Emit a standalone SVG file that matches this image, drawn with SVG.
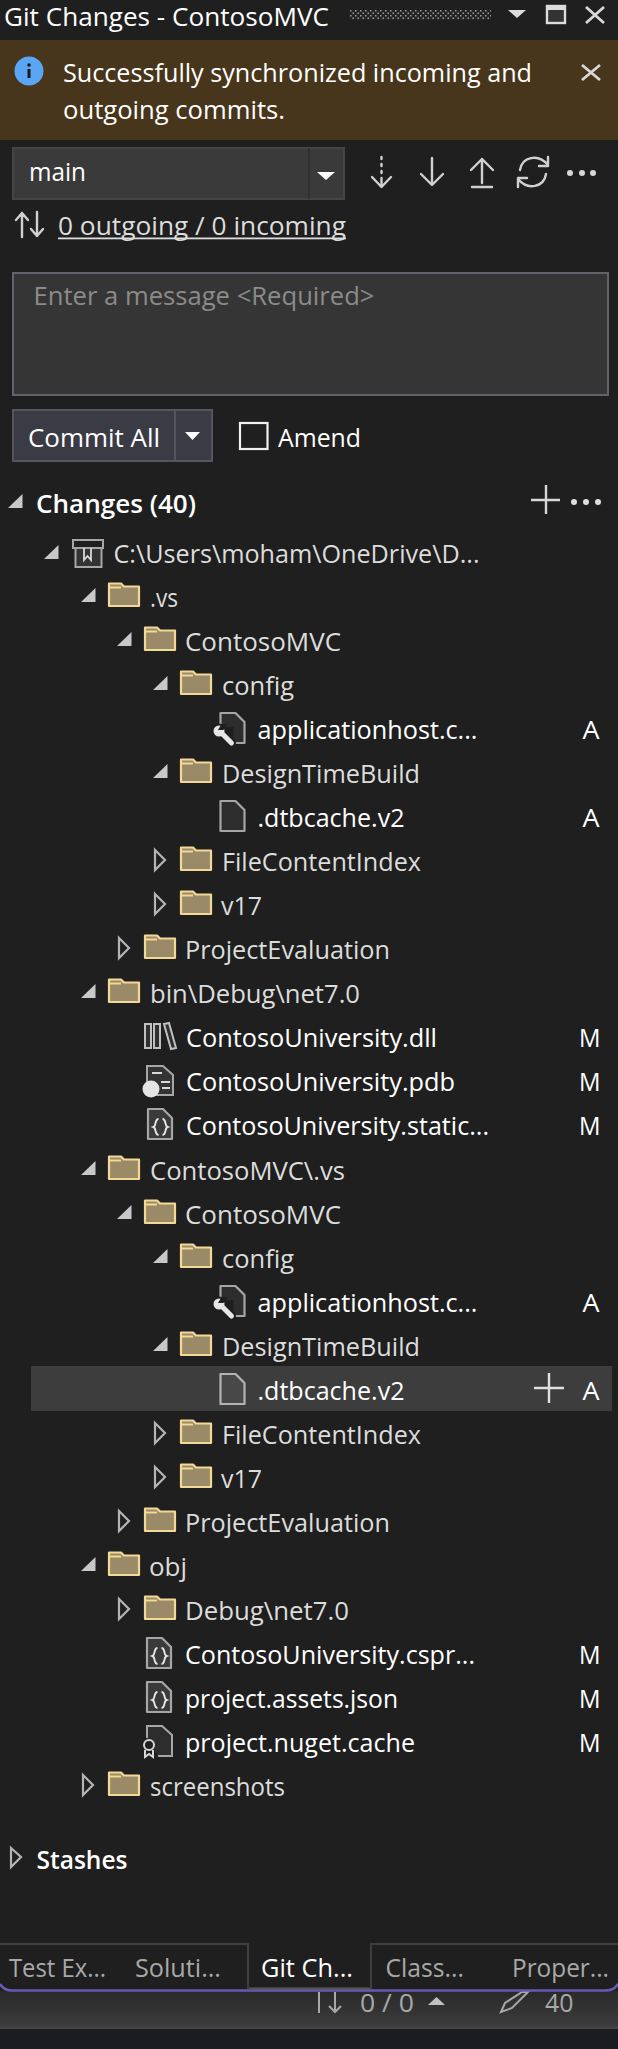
<svg xmlns="http://www.w3.org/2000/svg" width="618" height="2049" viewBox="0 0 618 2049">
<style>
text{font-family:"Open Sans","Noto Sans","Liberation Sans",sans-serif;font-size:25.500px;fill:#dcdcdc}
.w{fill:#fff}
.b{fill:#fff;font-weight:600}
.g{fill:#a8a8a8}
.ph{fill:#8b8b8b}
.ln{fill:none;stroke:#d0d0d0;stroke-width:2.400;stroke-linecap:round;stroke-linejoin:round}
</style>
<defs>
<linearGradient id="sb" x1="0" y1="0" x2="0" y2="1"><stop offset="0" stop-color="#2a2a2a"/><stop offset="1" stop-color="#3c3c3c"/></linearGradient>
<pattern id="grip" width="5" height="5" patternUnits="userSpaceOnUse"><rect width="5" height="5" fill="#242424"/><rect width="1.500" height="1.500" fill="#9a9a9a"/><rect x="2.500" y="2.500" width="1.500" height="1.500" fill="#9a9a9a"/></pattern>
<g id="folder"><path d="M1 -1V-23.500H13L16 -20.500H31V-1Z" fill="#9a8a68" stroke="#f2d995" stroke-width="2.200" stroke-linejoin="round"/><path d="M1 -19.500H13" fill="none" stroke="#f2d995" stroke-width="2"/></g>
<path id="open" d="M14.500 -19V-5H0Z" fill="#c8c8c8"/>
<path id="closed" d="M1 -21L11 -11L1 -1Z" fill="none" stroke="#b4b4b4" stroke-width="2.200"/>
<path id="file" d="M1 -26H16L25 -17V4H1Z" fill="#2d2d2d" stroke="#a6a6a6" stroke-width="2.200" stroke-linejoin="round"/>
<path id="fileH" d="M1 -26H16L25 -17V4H1Z" fill="#484848" stroke="#b4b4b4" stroke-width="2.200" stroke-linejoin="round"/>
<g id="wrench"><path d="M1 -12V-26H16L25 -17V4H14V-12Z" fill="#2d2d2d"/><path d="M1 -12V-26H16L25 -17V4H14" fill="none" stroke="#a6a6a6" stroke-width="2.200" stroke-linejoin="round"/><path d="M0 -8L12 4" stroke="#1f1f1f" stroke-width="9" stroke-linecap="round" fill="none"/><circle cx="-0.500" cy="-8" r="7.500" fill="#1f1f1f"/><path d="M0 -8L12 4" stroke="#e6e6e6" stroke-width="5" stroke-linecap="round" fill="none"/><circle cx="-0.500" cy="-8" r="5.500" fill="#e6e6e6"/><path d="M-1.500 -9L2 -15H8L4 -9Z" fill="#1f1f1f"/></g>
<g id="json"><path d="M1 -26H16L25 -17V4H1Z" fill="#3a3a3a" stroke="#a6a6a6" stroke-width="2.200" stroke-linejoin="round"/><path d="M11.500 -16C7.500 -16 9.500 -9 6.500 -8C9.500 -7 7.500 0 11.500 0M15.500 -16C19.500 -16 17.500 -9 20.500 -8C17.500 -7 19.500 0 15.500 0" fill="none" stroke="#e6e6e6" stroke-width="1.900"/></g>
</defs>
<rect id="panel" width="618" height="2049" fill="#1f1f1f"/>
<g id="titlebar">
<text x="4" y="26" textLength="325" lengthAdjust="spacingAndGlyphs" class="w">Git Changes - ContosoMVC</text>
<rect x="349" y="10" width="142" height="10" fill="url(#grip)"/>
<path d="M508 10H526L517 18Z" fill="#dcdcdc"/>
<rect x="547" y="6" width="18" height="17" fill="#333" stroke="#dcdcdc" stroke-width="2.400"/><rect x="546" y="5" width="20" height="5" fill="#dcdcdc"/>
<path d="M586 7L604 23M604 7L586 23" fill="none" stroke="#d8d8d8" stroke-width="2.800"/>
</g>
<g id="banner">
<rect y="40" width="618" height="100" fill="#47361b"/>
<circle cx="29" cy="71" r="14.500" fill="#5aa6f5"/>
<rect x="27.500" y="69" width="3" height="9" fill="#1a1a1a"/><circle cx="29" cy="65" r="1.800" fill="#1a1a1a"/>
<text x="63" y="82" textLength="469" lengthAdjust="spacingAndGlyphs" class="w">Successfully synchronized incoming and</text>
<text x="63" y="119" textLength="222" lengthAdjust="spacingAndGlyphs" class="w">outgoing commits.</text>
<path d="M582 65L600 80M600 65L582 80" fill="none" stroke="#d8d8d8" stroke-width="2.800"/>
</g>
<g id="branch">
<rect x="13" y="148" width="331" height="51" fill="#3a3a3a" stroke="#454545" stroke-width="2"/>
<path d="M309 148V199" stroke="#2f2f2f" stroke-width="2"/>
<text x="29" y="181" textLength="57" lengthAdjust="spacingAndGlyphs" class="w">main</text>
<path d="M317 172H335L326 180Z" fill="#fff"/>
</g>
<g id="git-actions">
<path class="ln" d="M381.500 157v2M381.500 164v2M381.500 171v2M381.500 178v8M372 177L381.500 187L391 177"/>
<path class="ln" d="M432 158V184M421 174L432 185L443 174"/>
<path class="ln" d="M482 159V183M471 170L482 159L493 170M472 187H492"/>
<path class="ln" d="M520 170C522 157 538 153 548 165M548 157V166H539M546 174C544 187 528 191 518 179M518 187V178H527"/>
<circle cx="570" cy="173" r="3" fill="#d8d8d8"/><circle cx="582" cy="173" r="3" fill="#d8d8d8"/><circle cx="593" cy="173" r="3" fill="#d8d8d8"/>
</g>
<g id="sync-status">
<path class="ln" d="M22 237V213M16 220L22 213L28 220M37 212V236M31 229L37 236L43 229"/>
<text x="58" y="235" textLength="288" lengthAdjust="spacingAndGlyphs">0 outgoing / 0 incoming</text>
<rect x="58" y="237.500" width="288" height="1.800" fill="#dcdcdc"/>
</g>
<g id="message">
<rect x="13" y="273" width="595" height="122" fill="#353535" stroke="#62626a" stroke-width="2"/>
<text x="33.500" y="305" textLength="341" lengthAdjust="spacingAndGlyphs" class="ph">Enter a message &lt;Required&gt;</text>
</g>
<g id="commit">
<rect x="13" y="410" width="199" height="51" fill="#3b3b45" stroke="#55555f" stroke-width="2"/>
<path d="M175 410V461" stroke="#55555f" stroke-width="2"/>
<text x="28" y="447" textLength="132" lengthAdjust="spacingAndGlyphs" class="w">Commit All</text>
<path d="M185 432H200L192.500 440Z" fill="#fff"/>
<rect x="240" y="423" width="27.500" height="26" fill="none" stroke="#f0f0f0" stroke-width="2.200"/>
<text x="278" y="447" textLength="83" lengthAdjust="spacingAndGlyphs" class="w">Amend</text>
</g>
<g id="changes-header">
<use href="#open" x="8" y="513"/>
<text x="36" y="513" textLength="160" lengthAdjust="spacingAndGlyphs" class="b">Changes (40)</text>
<path d="M531 500H560M546 485V514" stroke="#d8d8d8" stroke-width="2.400" fill="none"/>
<circle cx="574" cy="502" r="3" fill="#e0e0e0"/><circle cx="586" cy="502" r="3" fill="#e0e0e0"/><circle cx="598" cy="502" r="3" fill="#e0e0e0"/>
</g>
<g id="repo">
<use href="#open" x="44" y="564"/>
<rect x="73" y="540" width="30" height="8" fill="none" stroke="#a6a6a6" stroke-width="2"/>
<rect x="75.500" y="548" width="26" height="19" fill="#333" stroke="#a6a6a6" stroke-width="2"/>
<path d="M84 548V560L87.500 556L91 560V548" fill="none" stroke="#d8d8d8" stroke-width="1.800"/>
<text x="113.500" y="563" textLength="366" lengthAdjust="spacingAndGlyphs">C:\Users\moham\OneDrive\D...</text>
</g>
<g id="row-highlight"><rect x="31" y="1366" width="581" height="45" fill="#3d3d3d"/></g>
<g id="n01"><use href="#open" x="81" y="607"/><use href="#folder" x="108" y="607"/><text x="150" y="607" textLength="28" lengthAdjust="spacingAndGlyphs">.vs</text></g>
<g id="n02"><use href="#open" x="117" y="651"/><use href="#folder" x="144" y="651"/><text x="185" y="651" textLength="156" lengthAdjust="spacingAndGlyphs">ContosoMVC</text></g>
<g id="n03"><use href="#open" x="153" y="695"/><use href="#folder" x="180" y="695"/><text x="222" y="695" textLength="72" lengthAdjust="spacingAndGlyphs">config</text></g>
<g id="n04"><use href="#wrench" x="219.500" y="739"/><text class="w" x="257.500" y="739" textLength="220" lengthAdjust="spacingAndGlyphs">applicationhost.c...</text><text class="w" x="582.500" y="739" textLength="17" lengthAdjust="spacingAndGlyphs">A</text></g>
<g id="n05"><use href="#open" x="153" y="783"/><use href="#folder" x="180" y="783"/><text x="222" y="783" textLength="198" lengthAdjust="spacingAndGlyphs">DesignTimeBuild</text></g>
<g id="n06"><use href="#file" x="219.500" y="827"/><text class="w" x="257.500" y="827" textLength="147" lengthAdjust="spacingAndGlyphs">.dtbcache.v2</text><text class="w" x="582.500" y="827" textLength="17" lengthAdjust="spacingAndGlyphs">A</text></g>
<g id="n07"><use href="#closed" x="154" y="871"/><use href="#folder" x="180" y="871"/><text x="222" y="871" textLength="199" lengthAdjust="spacingAndGlyphs">FileContentIndex</text></g>
<g id="n08"><use href="#closed" x="154" y="915"/><use href="#folder" x="180" y="915"/><text x="221" y="915" textLength="41" lengthAdjust="spacingAndGlyphs">v17</text></g>
<g id="n09"><use href="#closed" x="118" y="959"/><use href="#folder" x="144" y="959"/><text x="185" y="959" textLength="205" lengthAdjust="spacingAndGlyphs">ProjectEvaluation</text></g>
<g id="n10"><use href="#open" x="81" y="1003"/><use href="#folder" x="108" y="1003"/><text x="150" y="1003" textLength="210" lengthAdjust="spacingAndGlyphs">bin\Debug\net7.0</text></g>
<g id="n11">
<path d="M145 1024h6v24h-6zM154 1024h6v24h-6zM164 1024l5 -1l7 25l-5 1z" fill="#2f2f2f" stroke="#c0c0c0" stroke-width="2"/>
<text class="w" x="186" y="1047" textLength="251" lengthAdjust="spacingAndGlyphs">ContosoUniversity.dll</text><text class="w" x="579" y="1047" textLength="21.500" lengthAdjust="spacingAndGlyphs">M</text></g>
<g id="n12">
<path d="M147 1066H163L173 1075V1095H147Z" fill="#333" stroke="#a6a6a6" stroke-width="2"/>
<path d="M152 1073H162M161 1082H170M162 1088H170" stroke="#d8d8d8" stroke-width="2" fill="none"/>
<circle cx="151" cy="1089" r="8.500" fill="#e4e4e4"/>
<text class="w" x="186" y="1091" textLength="269" lengthAdjust="spacingAndGlyphs">ContosoUniversity.pdb</text><text class="w" x="579" y="1091" textLength="21.500" lengthAdjust="spacingAndGlyphs">M</text></g>
<g id="n13"><use href="#json" x="147" y="1135"/><text class="w" x="186" y="1135" textLength="303" lengthAdjust="spacingAndGlyphs">ContosoUniversity.static...</text><text class="w" x="579" y="1135" textLength="21.500" lengthAdjust="spacingAndGlyphs">M</text></g>
<g id="n14"><use href="#open" x="81" y="1180"/><use href="#folder" x="108" y="1180"/><text x="150" y="1180" textLength="195" lengthAdjust="spacingAndGlyphs">ContosoMVC\.vs</text></g>
<g id="n15"><use href="#open" x="117" y="1224"/><use href="#folder" x="144" y="1224"/><text x="185" y="1224" textLength="156" lengthAdjust="spacingAndGlyphs">ContosoMVC</text></g>
<g id="n16"><use href="#open" x="153" y="1268"/><use href="#folder" x="180" y="1268"/><text x="222" y="1268" textLength="72" lengthAdjust="spacingAndGlyphs">config</text></g>
<g id="n17"><use href="#wrench" x="219.500" y="1312"/><text class="w" x="257.500" y="1312" textLength="220" lengthAdjust="spacingAndGlyphs">applicationhost.c...</text><text class="w" x="582.500" y="1312" textLength="17" lengthAdjust="spacingAndGlyphs">A</text></g>
<g id="n18"><use href="#open" x="153" y="1356"/><use href="#folder" x="180" y="1356"/><text x="222" y="1356" textLength="198" lengthAdjust="spacingAndGlyphs">DesignTimeBuild</text></g>
<g id="n19"><use href="#fileH" x="219.500" y="1400"/><text class="w" x="257.500" y="1400" textLength="147" lengthAdjust="spacingAndGlyphs">.dtbcache.v2</text><path d="M534 1388H564M549 1373V1403" stroke="#e0e0e0" stroke-width="2.400" fill="none"/><text class="w" x="582.500" y="1400" textLength="17" lengthAdjust="spacingAndGlyphs">A</text></g>
<g id="n20"><use href="#closed" x="154" y="1444"/><use href="#folder" x="180" y="1444"/><text x="222" y="1444" textLength="199" lengthAdjust="spacingAndGlyphs">FileContentIndex</text></g>
<g id="n21"><use href="#closed" x="154" y="1488"/><use href="#folder" x="180" y="1488"/><text x="221" y="1488" textLength="41" lengthAdjust="spacingAndGlyphs">v17</text></g>
<g id="n22"><use href="#closed" x="118" y="1532"/><use href="#folder" x="144" y="1532"/><text x="185" y="1532" textLength="205" lengthAdjust="spacingAndGlyphs">ProjectEvaluation</text></g>
<g id="n23"><use href="#open" x="81" y="1576"/><use href="#folder" x="108" y="1576"/><text x="149" y="1576" textLength="38" lengthAdjust="spacingAndGlyphs">obj</text></g>
<g id="n24"><use href="#closed" x="118" y="1620"/><use href="#folder" x="144" y="1620"/><text x="185" y="1620" textLength="164" lengthAdjust="spacingAndGlyphs">Debug\net7.0</text></g>
<g id="n25"><use href="#json" x="146" y="1664"/><text class="w" x="185" y="1664" textLength="290" lengthAdjust="spacingAndGlyphs">ContosoUniversity.cspr...</text><text class="w" x="579" y="1664" textLength="21.500" lengthAdjust="spacingAndGlyphs">M</text></g>
<g id="n26"><use href="#json" x="146" y="1708"/><text class="w" x="185" y="1708" textLength="213" lengthAdjust="spacingAndGlyphs">project.assets.json</text><text class="w" x="579" y="1708" textLength="21.500" lengthAdjust="spacingAndGlyphs">M</text></g>
<g id="n27">
<path d="M147 1738V1726H162L172 1735V1756H158" fill="#2d2d2d" stroke="#a6a6a6" stroke-width="2"/>
<circle cx="149" cy="1745" r="5" fill="#1f1f1f" stroke="#d8d8d8" stroke-width="2"/><path d="M145 1750V1757L149 1754L153 1757V1750" fill="none" stroke="#d8d8d8" stroke-width="2"/>
<text class="w" x="185" y="1752" textLength="230" lengthAdjust="spacingAndGlyphs">project.nuget.cache</text><text class="w" x="579" y="1752" textLength="21.500" lengthAdjust="spacingAndGlyphs">M</text></g>
<g id="n28"><use href="#closed" x="82" y="1796"/><use href="#folder" x="108" y="1796"/><text x="150" y="1796" textLength="135" lengthAdjust="spacingAndGlyphs">screenshots</text></g>
<g id="stashes">
<path d="M11 1848L21 1857L11 1867Z" fill="none" stroke="#b4b4b4" stroke-width="2.200"/>
<text x="36.500" y="1869" textLength="91" lengthAdjust="spacingAndGlyphs" class="b">Stashes</text>
</g>
<g id="statusbar">
<rect y="1991" width="618" height="37" fill="url(#sb)"/>
<rect y="2027" width="618" height="2" fill="#454545"/>
<rect y="2029" width="618" height="20" fill="#1b1b22"/>
<path d="M319 1992V2013M335 1992V2012M329 2006L335 2012L341 2006" fill="none" stroke="#a8a8a8" stroke-width="2"/>
<text x="360" y="2012" textLength="54" lengthAdjust="spacingAndGlyphs" class="g">0 / 0</text>
<path d="M428 2005H445L436.500 1997Z" fill="#c0c0c0"/>
<path d="M501 2012L505 2003L522 1992L528 1992L512 2008Z" fill="#333" stroke="#a8a8a8" stroke-width="2"/>
<text x="545" y="2012" textLength="28.500" lengthAdjust="spacingAndGlyphs" class="g">40</text>
</g>
<g id="tabs">
<path d="M0 1984Q4 1990.500 12 1990.500H606Q614 1990.500 618 1984" fill="none" stroke="#6a58b8" stroke-width="2.500"/>
<path d="M0 1944H248V1988H371V1944H618" fill="none" stroke="#3e3e3e" stroke-width="2"/>
<rect x="249" y="1988" width="121" height="2" fill="#55555f"/>
<text x="9" y="1977" textLength="97" lengthAdjust="spacingAndGlyphs" class="g">Test Ex...</text>
<text x="135" y="1977" textLength="86" lengthAdjust="spacingAndGlyphs" class="g">Soluti...</text>
<text x="261" y="1977" textLength="92" lengthAdjust="spacingAndGlyphs" class="w">Git Ch...</text>
<text x="385.500" y="1977" textLength="78.500" lengthAdjust="spacingAndGlyphs" class="g">Class...</text>
<text x="512" y="1977" textLength="97" lengthAdjust="spacingAndGlyphs" class="g">Proper...</text>
</g>
</svg>
